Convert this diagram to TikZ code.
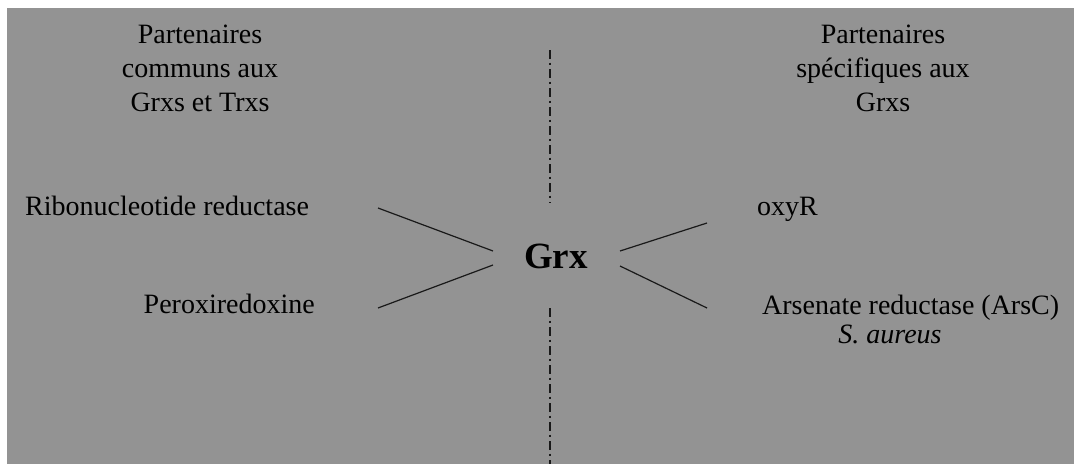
\documentclass[tikz,border=0pt]{standalone}
\usepackage{fontspec}
\setmainfont{Liberation Serif}
\definecolor{bg}{RGB}{147,147,147}
\definecolor{ink}{RGB}{25,25,25}
\begin{document}
\begin{tikzpicture}[x=1pt,y=-1pt,
  lbl/.style={inner sep=0pt, anchor=base, font=\fontsize{28}{34}\selectfont, text=black},
  head/.style={lbl, align=center},
  link/.style={draw=ink, line width=1.2pt},
  axisline/.style={draw=ink, line width=2pt, dash pattern=on 9pt off 3.5pt on 2.5pt off 4pt}]
\useasboundingbox (0,0) rectangle (1074,464);
\fill[white] (0,0) rectangle (1074,464);
\fill[bg] (7,8) rectangle (1074,464);
% headers (base anchor = baseline of last line)
\node[head] (hl) at (200,111) {Partenaires\\communs aux\\Grxs et Trxs};
\node[head] (hr) at (883,111) {Partenaires\\spécifiques aux\\Grxs};
% partners
\node[lbl, anchor=base west] (rnr) at (25,215) {Ribonucleotide reductase};
\node[lbl, anchor=base east] (prx) at (315,313) {Peroxiredoxine};
\node[lbl, anchor=base west] (oxyr) at (757,215) {oxyR};
\node[lbl, anchor=base west] (arsc) at (762,314) {Arsenate reductase (ArsC)};
\node[lbl, anchor=base, font=\fontsize{28}{30}\selectfont\itshape] (sa) at (890,343) {S. aureus};
\node[lbl, font=\fontsize{37}{40}\selectfont\bfseries] (grx) at (556,268) {Grx};
% connector ends
\coordinate (l1a) at (378,208);
\coordinate (l1b) at (493,251);
\coordinate (l2a) at (378,308);
\coordinate (l2b) at (493,265);
\coordinate (r1a) at (707,223);
\coordinate (r1b) at (620,251);
\coordinate (r2a) at (707,308);
\coordinate (r2b) at (620,266);
\coordinate (ax1) at (550,50);
\coordinate (ax2) at (550,203);
\coordinate (ax3) at (550,308);
\coordinate (ax4) at (550,464);
\draw[link] (l1a) -- (l1b);
\draw[link] (l2a) -- (l2b);
\draw[link] (r1a) -- (r1b);
\draw[link] (r2a) -- (r2b);
\draw[axisline] (ax1) -- (ax2);
\draw[axisline] (ax3) -- (ax4);
\end{tikzpicture}
\end{document}
